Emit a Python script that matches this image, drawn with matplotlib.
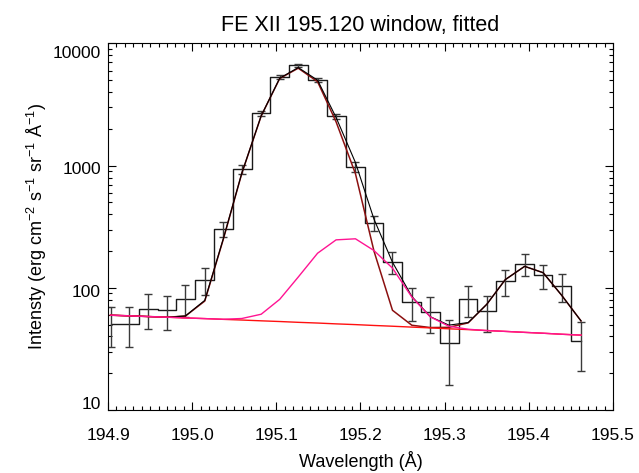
import matplotlib
matplotlib.use('Agg')
import matplotlib.pyplot as plt
import matplotlib.transforms as mtransforms
from matplotlib.ticker import LogLocator, MultipleLocator, FixedLocator, FixedFormatter

plt.rcParams['font.family'] = ['Liberation Sans', 'DejaVu Sans']
plt.rcParams['mathtext.default'] = 'regular'

# EIS pixel wavelengths across the window
wave = [194.903, 194.925, 194.948, 194.970, 194.992, 195.015, 195.037, 195.059,
        195.082, 195.104, 195.126, 195.149, 195.171, 195.194, 195.216, 195.238,
        195.261, 195.283, 195.305, 195.328, 195.350, 195.372, 195.395, 195.417,
        195.439, 195.462]

# observed intensity and 1-sigma errors
intensity = [51.0, 51.0, 67.6, 65.5, 81.6, 116.7, 304, 940, 2692, 5330, 6640, 5035,
             2527, 982, 342.5, 162.5, 76.6, 63.5, 35.4, 80.5, 64.7, 113, 157.7,
             126.5, 103.4, 36.8]
sigma = [18.5, 18.5, 21.7, 20.5, 23.5, 28.7, 45, 80, 120, 180, 200, 180, 120, 90,
         48, 33, 23, 20.5, 19.5, 22.7, 21, 27, 32.4, 28, 27, 16]

# fit components
fit_total = [59.7, 59.0, 58.2, 57.5, 58.9, 79, 252, 870, 2560, 5200, 6350, 5010,
             2480, 1060, 365, 162, 85, 58, 49.5, 52, 73.3, 116.7, 149.9, 133,
             86.9, 53.6]
fit_main = [59.7, 59.0, 58.2, 57.5, 58.7, 78, 250, 866, 2553, 5170, 6280, 4870,
            2284, 860, 200, 65.5, 49.4, 47.3, 47.5, 51.7, 73.3, 116.7, 149.9, 133,
            86.9, 53.6]
fit_blend = [59.7, 59.0, 58.2, 57.5, 56.7, 56.0, 55.3, 56.1, 60.8, 80.5, 122.5,
             192, 247, 252, 202, 145, 84, 57.8, 48.5, 45.8, 44.7, 44.0, 43.2, 42.5,
             41.7, 41.0]
background = [59.7, 59.0, 58.2, 57.5, 56.7, 56.0, 55.2, 54.5, 53.7, 53.0, 52.2,
              51.5, 50.7, 50.0, 49.2, 48.5, 47.7, 47.0, 46.2, 45.5, 44.7, 44.0,
              43.2, 42.5, 41.7, 41.0]

fig = plt.figure(figsize=(6.39, 4.73), dpi=100)
ax = fig.add_axes([108 / 639, 63 / 473, 505 / 639, 366.5 / 473])

ax.step(wave, intensity, where='mid', color='#1a1a1a', lw=1.0)
ax.errorbar(wave, intensity, yerr=sigma, fmt='none', ecolor='#3a3a3a',
            elinewidth=1.0, capsize=2.6, capthick=1.0)

ax.plot(wave, fit_main, color='#8b1010', lw=1.1)
ax.plot(wave, fit_total, color='black', lw=0.8)
ax.plot(wave, background, color='#ff1010', lw=1.0)
ax.plot(wave, fit_blend, color='#ff1493', lw=1.0)

ax.set_yscale('log')
ax.set_xlim(194.9, 195.5)
ax.set_ylim(10, 10000)

ax.xaxis.set_major_locator(FixedLocator([194.9, 195.0, 195.1, 195.2, 195.3, 195.4, 195.5]))
ax.xaxis.set_major_formatter(FixedFormatter(['194.9', '195.0', '195.1', '195.2', '195.3', '195.4', '195.5']))
ax.xaxis.set_minor_locator(MultipleLocator(0.01))
ax.yaxis.set_major_locator(FixedLocator([10, 100, 1000, 10000]))
ax.yaxis.set_major_formatter(FixedFormatter(['10', '100', '1000', '10000']))
ax.yaxis.set_minor_locator(LogLocator(base=10, subs=range(2, 10)))

ax.tick_params(which='both', direction='in', top=True, right=True, width=0.8,
               labelsize=12.5, colors='black')
ax.tick_params(which='major', length=5.5)
ax.tick_params(which='minor', length=2.6)
ax.tick_params(axis='x', pad=13)
ax.tick_params(axis='y', pad=5)
for s in ax.spines.values():
    s.set_linewidth(0.8)

# nudge the y labels the way the IDL plot places them
shifts = [7, -3, -2, -9]
for lab, dy in zip(ax.get_yticklabels(), shifts):
    off = mtransforms.ScaledTranslation(0, dy / 100, fig.dpi_scale_trans)
    lab.set_transform(lab.get_transform() + off)

ax.set_title('FE XII 195.120 window, fitted', fontsize=15.5, pad=9)
ax.set_xlabel('Wavelength (Å)', fontsize=13, labelpad=6)
ax.set_ylabel('Intensty (erg cm$^{-2}$ s$^{-1}$ sr$^{-1}$ Å$^{-1}$)', fontsize=13, labelpad=3)

fig.savefig('out.png', dpi=100)
